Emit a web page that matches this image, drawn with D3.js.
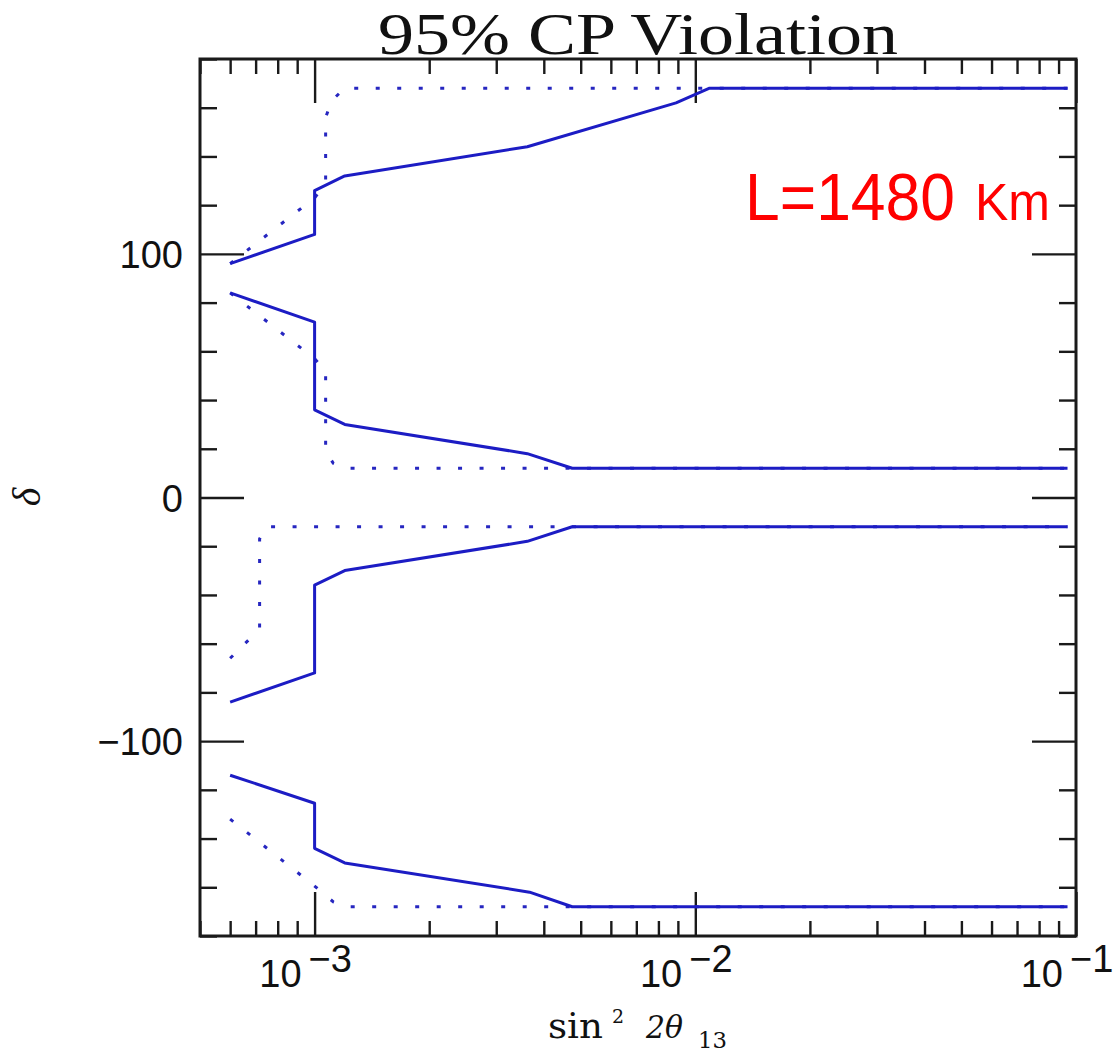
<!DOCTYPE html>
<html>
<head>
<meta charset="utf-8">
<script src="https://cdn.jsdelivr.net/npm/d3@7"></script>
<style>
  html, body { margin: 0; padding: 0; background: #fff; }
  svg { display: block; }
</style>
</head>
<body>
<svg id="chart" width="1118" height="1052"></svg>
<script>
// sin^2 2θ13 values and δ (degrees) along each 95% CP-violation boundary.
const solidTop = [[6e-4, 96], [1e-3, 108], [1e-3, 126], [1.2e-3, 132], [3.62e-3, 144], [8.9e-3, 162], [1.09e-2, 168], [0.095, 168]];
const solidUpperMid = [[6e-4, 84], [1e-3, 72], [1e-3, 36], [1.2e-3, 30], [3.62e-3, 18], [4.75e-3, 12], [0.095, 12]];
const solidLowerMid = [[6e-4, -84], [1e-3, -72], [1e-3, -36], [1.2e-3, -30], [3.62e-3, -18], [4.75e-3, -12], [0.095, -12]];
const solidBottom = [[6e-4, -114], [1e-3, -125.5], [1e-3, -144], [1.2e-3, -150], [3.67e-3, -162], [4.75e-3, -168], [0.095, -168]];

const dottedTop = [[6e-4, 96], [1e-3, 123], [1.069e-3, 129], [1.069e-3, 156], [1.11e-3, 163], [1.2e-3, 168], [0.095, 168]];
const dottedUpperMid = [[6e-4, 84], [1e-3, 57], [1.069e-3, 52], [1.069e-3, 19], [1.12e-3, 14], [1.2e-3, 12], [0.095, 12]];
const dottedLowerMid = [[6e-4, -66], [7.17e-4, -54], [7.17e-4, -17], [7.45e-4, -12], [0.095, -12]];
const dottedBottom = [[6e-4, -132], [1e-3, -159.5], [1.12e-3, -166], [1.22e-3, -168], [0.095, -168]];

// Axis ticks and labels
const xDomain = [5e-4, 0.1];
const yDomain = [-180, 180];
const xMajorTicks = [1e-3, 1e-2, 1e-1];
const xMajorExponents = ["\u22123", "\u22122", "\u22121"];
const yMajorTicks = [-100, 0, 100];
const yMajorLabels = ["\u2212100", "0", "100"];
const yMinorTicks = [-180, -160, -140, -120, -80, -60, -40, -20, 20, 40, 60, 80, 120, 140, 160, 180];

const svg = d3.select("#chart");
const plotLeft = 200, plotRight = 1076, plotTop = 59, plotBottom = 936;

const x = d3.scaleLog().domain(xDomain).range([plotLeft, plotRight]);
const y = d3.scaleLinear().domain(yDomain).range([plotBottom, plotTop]);

const xMinorTicks = x.ticks().filter(v => !xMajorTicks.some(m => Math.abs(m - v) / m < 1e-6));

const tickColor = "#1a1a1a";
function styleAxis(g) {
  g.select(".domain").remove();
  g.selectAll(".tick line").attr("stroke", tickColor).attr("stroke-width", 2.4);
  g.selectAll(".tick text").remove();
}

// Ticks on all four sides, pointing inward
const minorX = 15, majorX = 44, minorY = 17, majorY = 44;
svg.append("g").attr("transform", `translate(0,${plotBottom})`)
  .call(d3.axisBottom(x).tickValues(xMinorTicks).tickSizeInner(-minorX).tickSizeOuter(0)).call(styleAxis);
svg.append("g").attr("transform", `translate(0,${plotBottom})`)
  .call(d3.axisBottom(x).tickValues(xMajorTicks).tickSizeInner(-majorX).tickSizeOuter(0)).call(styleAxis);
svg.append("g").attr("transform", `translate(0,${plotTop})`)
  .call(d3.axisTop(x).tickValues(xMinorTicks).tickSizeInner(-minorX).tickSizeOuter(0)).call(styleAxis);
svg.append("g").attr("transform", `translate(0,${plotTop})`)
  .call(d3.axisTop(x).tickValues(xMajorTicks).tickSizeInner(-majorX).tickSizeOuter(0)).call(styleAxis);
svg.append("g").attr("transform", `translate(${plotLeft},0)`)
  .call(d3.axisLeft(y).tickValues(yMinorTicks).tickSizeInner(-minorY).tickSizeOuter(0)).call(styleAxis);
svg.append("g").attr("transform", `translate(${plotLeft},0)`)
  .call(d3.axisLeft(y).tickValues(yMajorTicks).tickSizeInner(-majorY).tickSizeOuter(0)).call(styleAxis);
svg.append("g").attr("transform", `translate(${plotRight},0)`)
  .call(d3.axisRight(y).tickValues(yMinorTicks).tickSizeInner(-minorY).tickSizeOuter(0)).call(styleAxis);
svg.append("g").attr("transform", `translate(${plotRight},0)`)
  .call(d3.axisRight(y).tickValues(yMajorTicks).tickSizeInner(-majorY).tickSizeOuter(0)).call(styleAxis);

// Frame
svg.append("rect")
  .attr("x", plotLeft).attr("y", plotTop)
  .attr("width", plotRight - plotLeft).attr("height", plotBottom - plotTop)
  .attr("fill", "none").attr("stroke", tickColor).attr("stroke-width", 3);

// Boundary curves
const line = d3.line().x(d => x(d[0])).y(d => y(d[1]));
const lineColor = "#1c1cc4";

[dottedTop, dottedUpperMid, dottedLowerMid, dottedBottom].forEach(s => {
  svg.append("path").datum(s)
    .attr("d", line)
    .attr("fill", "none")
    .attr("stroke", "#2626c0")
    .attr("stroke-width", 3)
    .attr("stroke-dasharray", "4 17.5");
});

[solidTop, solidUpperMid, solidLowerMid, solidBottom].forEach(s => {
  svg.append("path").datum(s)
    .attr("d", line)
    .attr("fill", "none")
    .attr("stroke", lineColor)
    .attr("stroke-width", 3)
    .attr("stroke-linejoin", "round");
});

// x tick labels: 10^n
const tickFont = "'Liberation Sans', Arial, Helvetica, sans-serif";
const xl = svg.append("g").selectAll("text").data(xMajorTicks).join("text")
  .attr("x", d => x(d) - 9)
  .attr("y", 987)
  .attr("text-anchor", "middle")
  .attr("font-family", tickFont)
  .attr("font-size", 38)
  .attr("fill", "#111");
xl.append("tspan").text("10");
xl.append("tspan").attr("dx", 7).attr("dy", -15).text((d, i) => xMajorExponents[i]);

// y tick labels
svg.append("g").selectAll("text").data(yMajorTicks).join("text")
  .attr("x", 183)
  .attr("y", d => y(d) + 14)
  .attr("text-anchor", "end")
  .attr("font-family", tickFont)
  .attr("font-size", 38)
  .attr("fill", "#111")
  .text((d, i) => yMajorLabels[i]);

// Title
const serif = "'Liberation Serif', 'Times New Roman', serif";
const wideSerif = "'DejaVu Serif', 'Liberation Serif', serif";
svg.append("text")
  .attr("x", 378).attr("y", 54)
  .attr("font-family", serif)
  .attr("font-size", 60)
  .attr("fill", "#111")
  .attr("textLength", 520)
  .attr("lengthAdjust", "spacingAndGlyphs")
  .text("95% CP Violation");

// x axis title: sin^2 2θ13
svg.append("text").attr("x", 548).attr("y", 1038)
  .attr("font-family", wideSerif).attr("font-size", 36).attr("fill", "#111")
  .attr("textLength", 55).attr("lengthAdjust", "spacingAndGlyphs")
  .text("sin");
svg.append("text").attr("x", 612).attr("y", 1023)
  .attr("font-family", wideSerif).attr("font-size", 19).attr("fill", "#111")
  .text("2");
svg.append("text").attr("x", 646).attr("y", 1038)
  .attr("font-family", wideSerif).attr("font-size", 31).attr("font-style", "italic").attr("fill", "#111")
  .attr("textLength", 37).attr("lengthAdjust", "spacingAndGlyphs")
  .text("2\u03b8");
svg.append("text").attr("x", 698).attr("y", 1048)
  .attr("font-family", wideSerif).attr("font-size", 22).attr("fill", "#111")
  .attr("textLength", 29).attr("lengthAdjust", "spacingAndGlyphs")
  .text("13");

// y axis title: δ
svg.append("text")
  .attr("transform", "translate(40,497) rotate(-90)")
  .attr("text-anchor", "middle")
  .attr("font-family", serif).attr("font-size", 40).attr("font-style", "italic").attr("fill", "#111")
  .text("\u03b4");

// Baseline annotation
svg.append("text")
  .attr("x", 745).attr("y", 220)
  .attr("font-family", tickFont).attr("font-size", 66)
  .attr("fill", "#ff0000")
  .attr("textLength", 210).attr("lengthAdjust", "spacingAndGlyphs")
  .text("L=1480");
svg.append("text")
  .attr("x", 975).attr("y", 220)
  .attr("font-family", tickFont).attr("font-size", 51)
  .attr("fill", "#ff0000")
  .attr("textLength", 75).attr("lengthAdjust", "spacingAndGlyphs")
  .text("Km");
</script>
</body>
</html>
